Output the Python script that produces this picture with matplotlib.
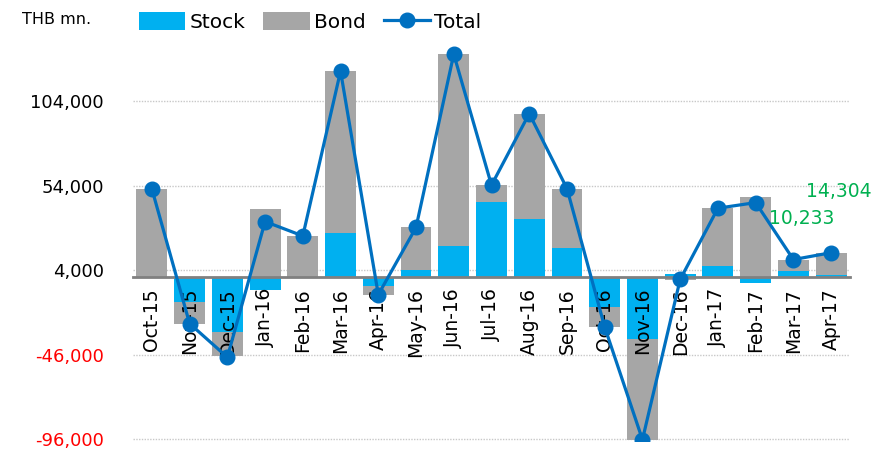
import matplotlib
matplotlib.use("Agg")
import matplotlib.pyplot as plt
import numpy as np

plt.rcParams['font.family'] = ['DejaVu Sans']

# monthly net flows, THB mn.
months = ['Oct-15', 'Nov-15', 'Dec-15', 'Jan-16', 'Feb-16', 'Mar-16', 'Apr-16',
          'May-16', 'Jun-16', 'Jul-16', 'Aug-16', 'Sep-16', 'Oct-16', 'Nov-16',
          'Dec-16', 'Jan-17', 'Feb-17', 'Mar-17', 'Apr-17']
stock = [0, -14600, -32300, -7600, 0, 25900, -5600,
         4200, 18300, 44200, 34400, 17100, -17600, -36600,
         1500, 6400, -3600, 3200, 1400]
bond = [52000, -13200, -14500, 40300, 24200, 95700, -4900,
        25000, 113300, 10000, 62100, 35100, -12100, -59600,
        -1700, 34200, 47500, 7000, 12900]
total = [52000, -27600, -47500, 32700, 24200, 121600, -10500,
         29200, 131600, 54200, 96500, 52200, -29700, -96200,
         -1500, 40600, 43900, 10233, 14304]

yticks = [104000, 54000, 4000, -46000, -96000]

c_stock = '#00B0F0'
c_bond = '#A6A6A6'
c_total = '#0070C0'
c_green = '#00B050'

fig = plt.figure(figsize=(8.84, 4.49), dpi=100)
ax = fig.add_axes([133/884, 8/449, 717/884, 401/449])

x = np.arange(len(months))
stock = np.array(stock)
bond = np.array(bond)

# excel-style stacking: positives up, negatives down
s_pos = np.where(stock > 0, stock, 0)
s_neg = np.where(stock < 0, stock, 0)
b_bottom = np.where(bond >= 0, s_pos, s_neg)

w = 0.82
h_s = ax.bar(x, stock, w, color=c_stock, label='Stock', zorder=2)
h_b = ax.bar(x, bond, w, bottom=b_bottom, color=c_bond, label='Bond', zorder=2)
h_t, = ax.plot(x, total, color=c_total, lw=2.3, marker='o', ms=10.5, label='Total', zorder=4)

ax.set_xlim(-0.5, len(months) - 0.5)
ax.set_ylim(-97000, 140000)
ax.set_yticks(yticks)
ax.set_yticklabels([f'{v:,}' for v in yticks], fontsize=13)
for lab, v in zip(ax.get_yticklabels(), yticks):
    lab.set_color('red' if v < 0 else 'black')
ax.yaxis.grid(True, color='#C8C8C8', linestyle=(0, (1, 1)), lw=1, zorder=0)
ax.tick_params(axis='y', length=0, pad=21)

for s in ['top', 'right', 'left']:
    ax.spines[s].set_visible(False)
ax.spines['bottom'].set_position(('data', 0))
ax.spines['bottom'].set_color('#808080')
ax.spines['bottom'].set_linewidth(2)
ax.spines['bottom'].set_zorder(2.5)
ax.set_xticks(x)
ax.set_xticklabels([])
ax.tick_params(axis='x', length=0)

# month labels drawn above the bars, below the line
for i, m in enumerate(months):
    ax.annotate(m, xy=(i, 0), xytext=(0, -8), textcoords='offset points',
                rotation=90, ha='center', va='top', fontsize=13.5, zorder=3)

ax.text(x[-2] + 1.09, total[-2] + 24400, f'{total[-2]:,}', color=c_green,
        fontsize=13.5, ha='right', va='center')
ax.text(x[-1] + 1.06, total[-1] + 36200, f'{total[-1]:,}', color=c_green,
        fontsize=13.5, ha='right', va='center')

fig.text(22/884, 1 - 20/449, 'THB mn.', fontsize=11.5, va='center', ha='left')

fig.legend([h_s, h_b, h_t], ['Stock', 'Bond', 'Total'], loc='center',
           bbox_to_anchor=(310/884, 1 - 22/449), ncol=3,
           frameon=False, fontsize=14.5, handlelength=2.3, handleheight=1.0,
           handletextpad=0.2, columnspacing=0.9, borderaxespad=0)

fig.savefig('out.png', dpi=100)
